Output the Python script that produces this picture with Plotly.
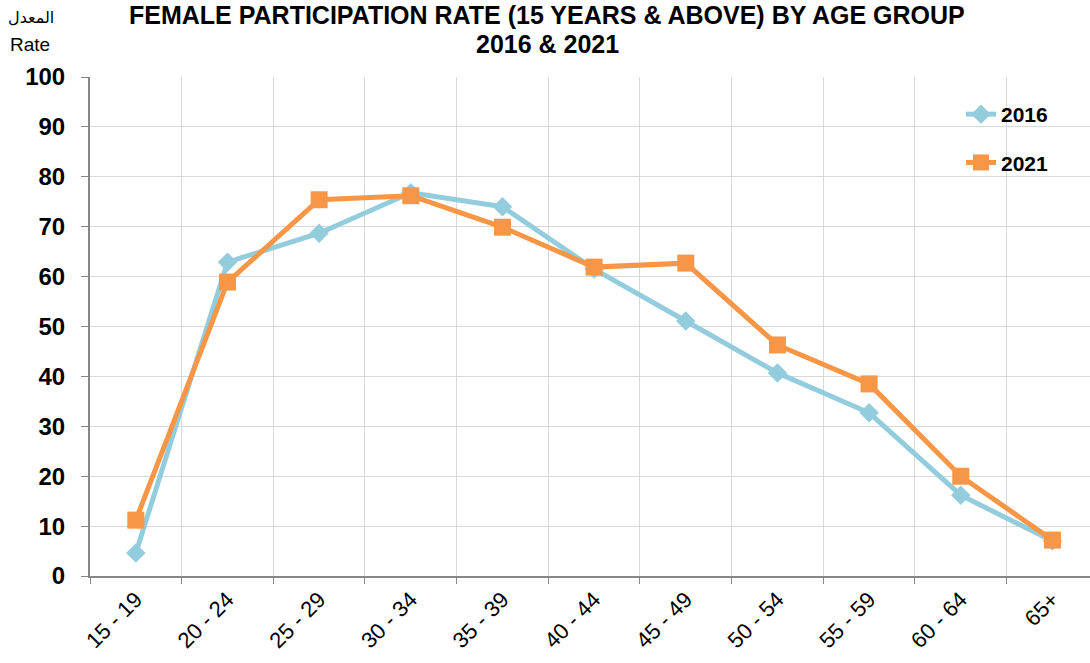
import plotly.graph_objects as go

categories = ["15 - 19", "20 - 24", "25 - 29", "30 - 34", "35 - 39", "40 - 44",
              "45 - 49", "50 - 54", "55 - 59", "60 - 64", "65+"]
values_2016 = [4.6, 62.9, 68.7, 76.8, 74.0, 61.5, 51.1, 40.7, 32.7, 16.2, 7.0]
values_2021 = [11.2, 58.9, 75.4, 76.2, 69.9, 61.9, 62.7, 46.3, 38.5, 20.0, 7.2]
y_ticks = [0, 10, 20, 30, 40, 50, 60, 70, 80, 90, 100]
title_lines = ["FEMALE PARTICIPATION RATE (15 YEARS &amp; ABOVE) BY AGE GROUP", "2016 &amp; 2021"]

FONT = "Liberation Sans, Arial, sans-serif"

fig = go.Figure()
fig.add_trace(go.Scatter(
    x=categories, y=values_2016, name="2016", mode="lines+markers",
    line=dict(color="#93CDDD", width=5),
    marker=dict(symbol="diamond", size=15, color="#93CDDD"),
    legendgroup="a",
))
fig.add_trace(go.Scatter(
    x=categories, y=values_2021, name="2021", mode="lines+markers",
    line=dict(color="#F79646", width=5),
    marker=dict(symbol="square", size=17, color="#F79646"),
    legendgroup="b",
))

W, H = 1090, 663
L, R, T, B = 90, 0, 77, 87
pw, ph = W - L - R, H - T - B

def px_x(px):
    return (px - L) / pw

def px_y(py):
    return (H - B - py) / ph

fig.update_layout(
    width=W, height=H,
    margin=dict(l=L, r=R, t=T, b=B, autoexpand=False),
    paper_bgcolor="white", plot_bgcolor="white",
    font=dict(family=FONT, color="black"),
    showlegend=True,
    legend=dict(
        x=px_x(961), y=px_y(94), xanchor="left", yanchor="top",
        bgcolor="rgba(0,0,0,0)",
        font=dict(size=21, family=FONT, color="black", weight="bold"),
        tracegroupgap=18,
    ),
    xaxis=dict(
        type="category",
        range=[-0.5, 10.41],
        tickson="boundaries",
        showgrid=True, gridcolor="#D9D9D9", gridwidth=1,
        showline=True, linecolor="#868686", linewidth=2,
        ticks="outside", ticklen=6, tickcolor="#868686", tickwidth=1,
        tickangle=-45,
        tickfont=dict(size=22, family=FONT, color="black"),
        zeroline=False,
        automargin=False,
    ),
    yaxis=dict(
        range=[0, 100],
        tickvals=y_ticks,
        showgrid=True, gridcolor="#D9D9D9", gridwidth=1,
        showline=True, linecolor="#868686", linewidth=2,
        ticks="outside", ticklen=7, tickcolor="#868686", tickwidth=1,
        tickfont=dict(size=24, family=FONT, color="black", weight="bold"),
        ticklabelstandoff=11,
        zeroline=False,
        automargin=False,
    ),
)

fig.add_annotation(text="<b>" + title_lines[0] + "</b>", x=px_x(547), y=px_y(15),
                   xref="paper", yref="paper", xanchor="center", yanchor="middle",
                   showarrow=False, font=dict(size=25, family=FONT, color="black"))
fig.add_annotation(text="<b>" + title_lines[1] + "</b>", x=px_x(547), y=px_y(44),
                   xref="paper", yref="paper", xanchor="center", yanchor="middle",
                   showarrow=False, font=dict(size=25, family=FONT, color="black"))
fig.add_annotation(text="المعدل", x=px_x(31), y=px_y(17), xref="paper", yref="paper",
                   xanchor="center", yanchor="middle", showarrow=False,
                   font=dict(size=16, family="DejaVu Sans, Noto Sans", color="black"))
fig.add_annotation(text="Rate", x=px_x(30), y=px_y(44), xref="paper", yref="paper",
                   xanchor="center", yanchor="middle", showarrow=False,
                   font=dict(size=19, family=FONT, color="black"))

fig.write_html("out.html",
               config={"displayModeBar": False},
               post_script="document.body.style.margin='0';document.body.style.padding='0';document.body.style.overflow='hidden';")
